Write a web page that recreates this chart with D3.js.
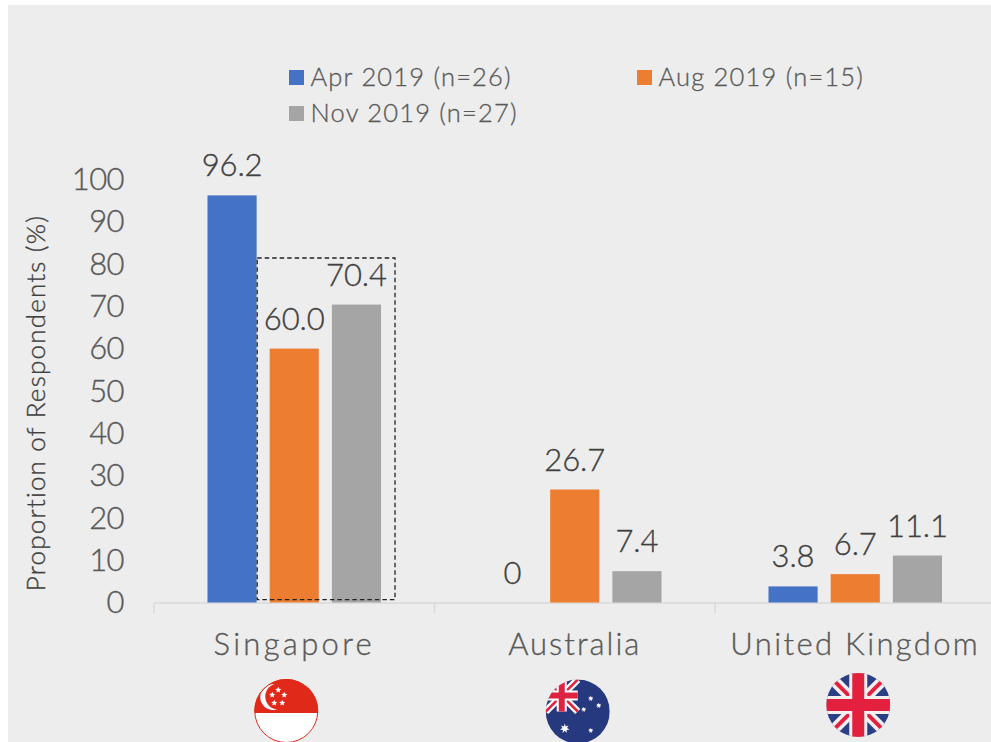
<!DOCTYPE html>
<html><head><meta charset="utf-8">
<script src="https://cdn.jsdelivr.net/npm/d3@7/dist/d3.min.js"></script>
<style>html,body{margin:0;padding:0;background:#fff;overflow:hidden}svg{display:block}
text{font-family:Lato,"Open Sans",sans-serif;font-weight:300}</style></head>
<body><svg id="c" width="991" height="742"></svg>
<script>
const categories=["Singapore","Australia","United Kingdom"];
const seriesNames=["Apr 2019 (n=26)","Aug 2019 (n=15)","Nov 2019 (n=27)"];
const colors=["#4472C4","#ED7D31","#A5A5A5"];
const apr=[96.2,0,3.8];
const aug=[60.0,26.7,6.7];
const nov=[70.4,7.4,11.1];
const aprLabels=["96.2","0","3.8"];
const augLabels=["60.0","26.7","6.7"];
const novLabels=["70.4","7.4","11.1"];
const yTicks=[0,10,20,30,40,50,60,70,80,90,100];
const seriesValues=[apr,aug,nov], seriesLabels=[aprLabels,augLabels,novLabels];

const svg=d3.select("#c");
svg.append("rect").attr("x",8).attr("y",5).attr("width",983).attr("height",737).attr("fill","#EDEDED");

const y=d3.scaleLinear().domain([0,100]).range([602.5,179.3]);
const x0=d3.scaleBand().domain(categories).range([154,995.5]);
const x1=d3.scaleBand().domain([0,1,2]).range([0,x0.bandwidth()]).paddingInner(0.21).paddingOuter(0.86);

function weigh(sel,col,w){return sel.attr("fill",col).attr("stroke",col).attr("stroke-width",w).style("font-family","Lato").style("font-weight",300);}

// y axis (labels only)
const yAxis=d3.axisLeft(y).tickValues(yTicks).tickSize(0).tickPadding(0);
const gy=svg.append("g").attr("transform","translate(124,0)").call(yAxis);
gy.select(".domain").remove();
weigh(gy.selectAll("text"),"#595959",0.35).attr("font-size",31).attr("dy","0.33em").style("letter-spacing","-0.6px");

// x axis
const xAxis=d3.axisBottom(x0).tickSize(0).tickPadding(0);
const gx=svg.append("g").attr("transform","translate(0,603)").call(xAxis);
gx.select(".domain").remove();
const xSpacing=[3.3,2.0,2.35];
weigh(gx.selectAll("text"),"#595959",0.35).attr("font-size",31).attr("dy",0).attr("y",52)
  .style("letter-spacing",(d,i)=>xSpacing[i]+"px");
const axisLine=svg.append("g").attr("stroke","#D9D9D9").attr("stroke-width",1.5).attr("fill","none");
axisLine.append("line").attr("x1",x0.range()[0]).attr("x2",x0.range()[1]).attr("y1",603).attr("y2",603);
categories.forEach(c=>{axisLine.append("line").attr("x1",x0(c)).attr("x2",x0(c)).attr("y1",603).attr("y2",613);});

// bars + labels
seriesValues.forEach((vals,s)=>{
  const g=svg.append("g");
  g.selectAll("rect").data(vals).join("rect")
   .attr("x",(d,i)=>x0(categories[i])+x1(s)).attr("width",x1.bandwidth())
   .attr("y",d=>y(d)).attr("height",d=>y(0)-y(d)).attr("fill",colors[s]);
  const t=g.selectAll("text").data(vals).join("text")
   .attr("x",(d,i)=>x0(categories[i])+x1(s)+x1.bandwidth()/2)
   .attr("y",d=>y(d)-19).attr("text-anchor","middle")
   .attr("font-size",31).style("letter-spacing","-0.1px")
   .text((d,i)=>seriesLabels[s][i]);
  weigh(t,"#404040",0.35);
});

// dashed highlight box
const bx0=x0(categories[0])+x1(1)-12.5, bx1=x0(categories[0])+x1(2)+x1.bandwidth()+14;
svg.append("rect").attr("x",bx0).attr("width",bx1-bx0).attr("y",y(81.4)).attr("height",y(0.7)-y(81.4))
  .attr("fill","none").attr("stroke","#222").attr("stroke-width",1.3).attr("stroke-dasharray","4.5 3");

// y title
weigh(svg.append("text").attr("transform","translate(45,403) rotate(-90)").attr("text-anchor","middle")
  .attr("font-size",26).style("letter-spacing","1.2px").text("Proportion of Respondents (%)"),"#404040",0.35);

// legend
const legendPos=[[289,70],[637,70],[289,106]];
seriesNames.forEach((n,i)=>{
  const g=svg.append("g").attr("transform",`translate(${legendPos[i][0]},${legendPos[i][1]})`);
  g.append("rect").attr("width",15).attr("height",15).attr("fill",colors[i]);
  weigh(g.append("text").attr("x",21.5).attr("y",16).attr("font-size",25.5).style("letter-spacing","1.2px").text(n),"#595959",0.3);
});

// flags
const defs=svg.append("defs");
function flag(id,cx,cy,draw){
  defs.append("clipPath").attr("id",id).append("circle").attr("r",32);
  const g=svg.append("g").attr("transform",`translate(${cx},${cy})`);
  const inner=g.append("g").attr("clip-path",`url(#${id})`);
  draw(inner);
  return g;
}
function star(g,cx,cy,r,n,fill){
  const pts=d3.range(n*2).map(i=>{const a=-Math.PI/2+i*Math.PI/n,q=i%2?r*0.45:r;return [cx+q*Math.cos(a),cy+q*Math.sin(a)];});
  g.append("polygon").attr("points",pts.join(" ")).attr("fill",fill);
}
const sg=flag("fSG",x0(categories[0])+x0.bandwidth()/2-8,711,g=>{
  g.append("rect").attr("x",-32).attr("y",-32).attr("width",64).attr("height",64).attr("fill","#fff");
  g.append("rect").attr("x",-32).attr("y",-32).attr("width",64).attr("height",34).attr("fill","#E1291A");
  g.append("circle").attr("cx",-13).attr("cy",-14).attr("r",13).attr("fill","#fff");
  g.append("circle").attr("cx",-8).attr("cy",-14.5).attr("r",13).attr("fill","#E1291A");
  [[-14,-16],[-8,-21],[-2,-16],[-12,-8],[-4,-8]].forEach(p=>star(g,p[0],p[1],3.2,5,"#fff"));
});
sg.append("circle").attr("r",31.5).attr("fill","none").attr("stroke","#E1291A").attr("stroke-width",1);

flag("fAU",x0(categories[1])+x0.bandwidth()/2+3,711.5,g=>{
  g.append("rect").attr("x",-32).attr("y",-32).attr("width",64).attr("height",64).attr("fill","#26387E");
  const u=g.append("g").attr("transform","translate(-32,-32)");
  [[0,0,32,32],[0,32,32,0]].forEach(l=>{
    u.append("line").attr("x1",l[0]).attr("y1",l[1]).attr("x2",l[2]).attr("y2",l[3]).attr("stroke","#fff").attr("stroke-width",7);
    u.append("line").attr("x1",l[0]).attr("y1",l[1]).attr("x2",l[2]).attr("y2",l[3]).attr("stroke","#DC2340").attr("stroke-width",2.5);
  });
  u.append("rect").attr("x",0).attr("y",11).attr("width",32).attr("height",10).attr("fill","#fff");
  u.append("rect").attr("x",11).attr("y",0).attr("width",10).attr("height",32).attr("fill","#fff");
  u.append("rect").attr("x",0).attr("y",13).attr("width",32).attr("height",6).attr("fill","#DC2340");
  u.append("rect").attr("x",13).attr("y",0).attr("width",6).attr("height",32).attr("fill","#DC2340");
  [[13,-13,3],[21,-6,3],[6,-2,2.8],[13,19,2.8]].forEach(p=>star(g,p[0],p[1],p[2],7,"#fff"));
  star(g,-13,17,5,7,"#fff");
});

flag("fUK",x0(categories[2])+x0.bandwidth()/2+3,705,g=>{
  g.append("rect").attr("x",-32).attr("y",-32).attr("width",64).attr("height",64).attr("fill","#2B3F87");
  [[-32,-32,32,32],[-32,32,32,-32]].forEach(l=>{
    g.append("line").attr("x1",l[0]).attr("y1",l[1]).attr("x2",l[2]).attr("y2",l[3]).attr("stroke","#F4F0F0").attr("stroke-width",11);
    g.append("line").attr("x1",l[0]).attr("y1",l[1]).attr("x2",l[2]).attr("y2",l[3]).attr("stroke","#E4203F").attr("stroke-width",4);
  });
  g.append("rect").attr("x",-32).attr("y",-9).attr("width",64).attr("height",18).attr("fill","#F4F0F0");
  g.append("rect").attr("x",-9).attr("y",-32).attr("width",18).attr("height",64).attr("fill","#F4F0F0");
  g.append("rect").attr("x",-32).attr("y",-6).attr("width",64).attr("height",12).attr("fill","#E4203F");
  g.append("rect").attr("x",-6).attr("y",-32).attr("width",12).attr("height",64).attr("fill","#E4203F");
});
</script></body></html>
